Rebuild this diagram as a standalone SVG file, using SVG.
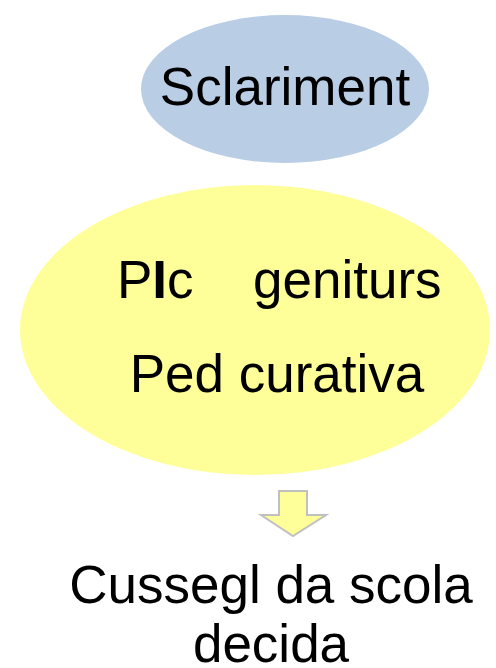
<svg xmlns="http://www.w3.org/2000/svg" width="496" height="668" viewBox="0 0 496 668">
<style>
text{font-family:"Liberation Sans",Arial,sans-serif;font-size:53px;fill:#000}
</style>
<rect width="496" height="668" fill="#fff"/>
<g id="sclariment">
<ellipse cx="285" cy="89" rx="144" ry="74" fill="#B9CDE5"/>
<text x="285" y="105" text-anchor="middle">Sclariment</text>
</g>
<g id="plc">
<ellipse cx="255" cy="330" rx="235" ry="145" fill="#FFFF99"/>
<text x="117" y="298">P<tspan font-weight="bold">I</tspan>c</text>
<text x="253" y="298">geniturs</text>
<text x="277" y="392" text-anchor="middle">Ped curativa</text>
</g>
<g id="connectors">
<path d="M279,491 H307 V515 H326 L293,536 L261,515 H279 Z" fill="#FFFF99" stroke="#C0C0C0" stroke-width="2"/>
</g>
<g id="cussegl">
<text x="271" y="603" text-anchor="middle">Cussegl da scola</text>
<text x="271" y="662" text-anchor="middle">decida</text>
</g>
</svg>
